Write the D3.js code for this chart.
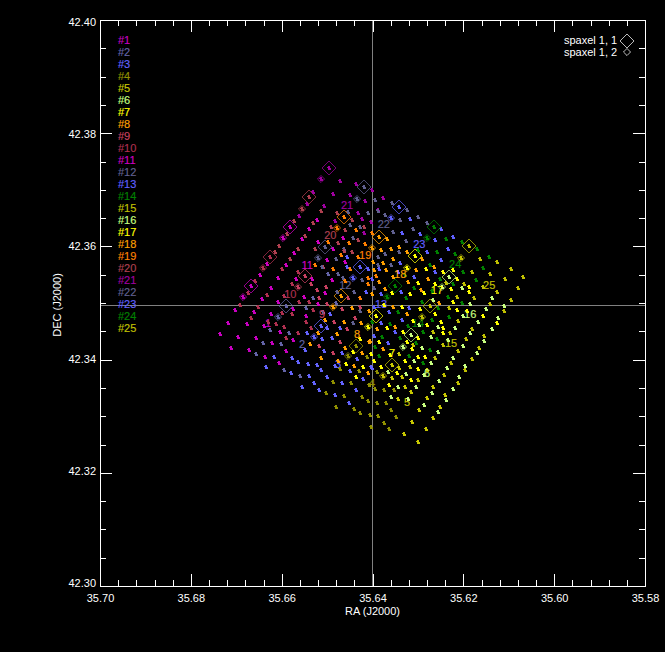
<!DOCTYPE html>
<html>
<head>
<meta charset="utf-8">
<script src="https://cdn.jsdelivr.net/npm/d3@7"></script>
<style>
body { margin: 0; background: #000; }
svg { display: block; }
text { font-family: "Liberation Sans", sans-serif; font-size: 11px; }
</style>
</head>
<body>
<svg></svg>
<script>
// spaxel numbers and their colours, same order as the legend
let spaxelIds = d3.range(1, 26);
let spaxelColors = ["#c800c0", "#6464a8", "#6464ff", "#909000", "#c8c800", "#c8ff80", "#ffff00", "#ffa000", "#c84060", "#b03050",
    "#d000c0", "#606090", "#6060ff", "#008000", "#c0c000", "#c8ff80", "#ffff00", "#ffa000", "#ff8000", "#b04050",
    "#a000a0", "#606090", "#6060ff", "#008000", "#c0c000"];

// sub-position 1,1 of each spaxel
let bigRa = [35.6668, 35.6590, 35.6513, 35.6436, 35.6357, 35.6315, 35.6392, 35.6469, 35.6548, 35.6625, 35.6581, 35.6504, 35.6427, 35.6350, 35.6273, 35.6231, 35.6306, 35.6385, 35.6462, 35.6539, 35.6495, 35.6418, 35.6341, 35.6264, 35.6187];
let bigDec = [42.3530, 42.3494, 42.3459, 42.3424, 42.3390, 42.3443, 42.3477, 42.3512, 42.3547, 42.3581, 42.3634, 42.3599, 42.3563, 42.3530, 42.3494, 42.3546, 42.3583, 42.3616, 42.3652, 42.3687, 42.3738, 42.3705, 42.3669, 42.3634, 42.3600];

// sub-position 1,2 of each spaxel
let smallRa = [35.6685, 35.6608, 35.6529, 35.6453, 35.6376, 35.6332, 35.6409, 35.6487, 35.6563, 35.6641, 35.6597, 35.6520, 35.6443, 35.6368, 35.6291, 35.6247, 35.6324, 35.6401, 35.6478, 35.6555, 35.6513, 35.6434, 35.6359, 35.6280, 35.6205];
let smallDec = [42.3510, 42.3475, 42.3440, 42.3406, 42.3371, 42.3422, 42.3457, 42.3493, 42.3528, 42.3561, 42.3615, 42.3579, 42.3544, 42.3510, 42.3475, 42.3528, 42.3561, 42.3597, 42.3632, 42.3666, 42.3719, 42.3683, 42.3650, 42.3614, 42.3579];

// where the spaxel numbers are written
let labelRa = [35.6630, 35.6555, 35.6476, 35.6401, 35.6324, 35.6280, 35.6357, 35.6434, 35.6511, 35.6581, 35.6544, 35.6460, 35.6381, 35.6300, 35.6227, 35.6185, 35.6258, 35.6339, 35.6416, 35.6493, 35.6456, 35.6375, 35.6297, 35.6218, 35.6143];
let labelDec = [42.3464, 42.3427, 42.3392, 42.3358, 42.3325, 42.3376, 42.3411, 42.3445, 42.3480, 42.3516, 42.3567, 42.3531, 42.3498, 42.3464, 42.3429, 42.3480, 42.3523, 42.3551, 42.3584, 42.3620, 42.3673, 42.3639, 42.3604, 42.3569, 42.3531];

let dots1 = [[35.6703,42.3487],[35.6718,42.3464],[35.6736,42.3445],[35.6711,42.3420],[35.6672,42.3417],[35.6696,42.3440],[35.6676,42.3463],[35.6661,42.3484],[35.6643,42.3507],[35.6623,42.3526],[35.6656,42.3438],[35.6639,42.3459],[35.6623,42.3480],[35.6608,42.3501],[35.6637,42.3404],[35.6621,42.3429],[35.6603,42.3448],[35.6575,42.3489],[35.6606,42.3394],[35.6590,42.3415],[35.6575,42.3434],[35.6546,42.3477]];
let dots2 = [[35.6641,42.3429],[35.6601,42.3427],[35.6625,42.3452],[35.6584,42.3447],[35.6656,42.3410],[35.6546,42.3491],[35.6531,42.3508],[35.6509,42.3484],[35.6480,42.3500],[35.6595,42.3381],[35.6559,42.3371],[35.6498,42.3551]];
let dots3 = [[35.6617,42.3404],[35.6634,42.3387],[35.6577,42.3402],[35.6579,42.3376],[35.6564,42.3395],[35.6540,42.3371],[35.6542,42.3392],[35.6522,42.3390],[35.6513,42.3381],[35.6500,42.3369],[35.6555,42.3351],[35.6529,42.3358],[35.6518,42.3346],[35.6482,42.3337],[35.6467,42.3358],[35.6452,42.3323],[35.6482,42.3388],[35.6449,42.3380],[35.6436,42.3346],[35.6421,42.3365],[35.6434,42.3401],[35.6403,42.3387],[35.6548,42.3417],[35.6507,42.3415],[35.6467,42.3411],[35.6511,42.3436],[35.6489,42.3438],[35.6544,42.3447],[35.6471,42.3456],[35.6500,42.3456],[35.6493,42.3480],[35.6401,42.3385]];
let dots4 = [[35.6412,42.3404],[35.6471,42.3383],[35.6430,42.3380],[35.6390,42.3378],[35.6487,42.3360],[35.6447,42.3358],[35.6407,42.3355],[35.6394,42.3348],[35.6502,42.3341],[35.6463,42.3335],[35.6423,42.3334],[35.6410,42.3327],[35.6390,42.3323],[35.6480,42.3316],[35.6441,42.3312],[35.6427,42.3305],[35.6405,42.3302],[35.6388,42.3300],[35.6403,42.3281],[35.6375,42.3346],[35.6353,42.3346],[35.6370,42.3323],[35.6359,42.3311],[35.6375,42.3288],[35.6348,42.3298],[35.6363,42.3277]];
let dots5 = [[35.6341,42.3410],[35.6341,42.3385],[35.6317,42.3387],[35.6357,42.3367],[35.6335,42.3369],[35.6300,42.3364],[35.6328,42.3351],[35.6315,42.3342],[35.6344,42.3330],[35.6280,42.3381],[35.6267,42.3351],[35.6280,42.3332],[35.6297,42.3311],[35.6313,42.3289],[35.6251,42.3316],[35.6267,42.3296],[35.6282,42.3277],[35.6330,42.3268],[35.6300,42.3254],[35.6240,42.3337]];
let dots6 = [[35.6366,42.3378],[35.6326,42.3374],[35.6286,42.3372],[35.6344,42.3351],[35.6304,42.3351],[35.6359,42.3334],[35.6322,42.3330],[35.6269,42.3341],[35.6286,42.3319],[35.6238,42.3328],[35.6256,42.3307],[35.6223,42.3348],[35.6209,42.3369],[35.6253,42.3362],[35.6236,42.3385],[35.6196,42.3388],[35.6271,42.3394],[35.6308,42.3397],[35.6291,42.3420],[35.6271,42.3440],[35.6256,42.3413],[35.6223,42.3402]];
let dots7 = [[35.6427,42.3436],[35.6443,42.3413],[35.6403,42.3410],[35.6458,42.3392],[35.6421,42.3387],[35.6436,42.3369],[35.6381,42.3387],[35.6397,42.3397],[35.6368,42.3456],[35.6332,42.3448],[35.6361,42.3408],[35.6328,42.3397],[35.6300,42.3383],[35.6313,42.3418],[35.6324,42.3431],[35.6385,42.3431],[35.6346,42.3376],[35.6315,42.3364],[35.6363,42.3355],[35.6300,42.3404],[35.6284,42.3404]];
let dots8 = [[35.6504,42.3470],[35.6463,42.3466],[35.6478,42.3445],[35.6425,42.3464],[35.6407,42.3486],[35.6407,42.3431],[35.6460,42.3420],[35.6423,42.3411],[35.6513,42.3402],[35.6476,42.3397],[35.6441,42.3388],[35.6410,42.3376],[35.6445,42.3491],[35.6537,42.3427],[35.6520,42.3447],[35.6377,42.3418],[35.6405,42.3432]];
let dots9 = [[35.6518,42.3508],[35.6522,42.3523],[35.6502,42.3528],[35.6500,42.3498],[35.6509,42.3563],[35.6535,42.3533],[35.6518,42.3424],[35.6487,42.3411],[35.6485,42.3466],[35.6467,42.3489],[35.6456,42.3454],[35.6471,42.3431],[35.6438,42.3473],[35.6427,42.3493],[35.6454,42.3508]];
let dots10 = [[35.6692,42.3496],[35.6652,42.3493],[35.6632,42.3514],[35.6674,42.3517],[35.6659,42.3538],[35.6668,42.3473],[35.6630,42.3466],[35.6612,42.3463],[35.6599,42.3482],[35.6595,42.3457],[35.6590,42.3438],[35.6577,42.3480],[35.6562,42.3501],[35.6595,42.3512],[35.6577,42.3533],[35.6599,42.3560],[35.6564,42.3555],[35.6546,42.3466],[35.6540,42.3501],[35.6531,42.3487],[35.6535,42.3455],[35.6564,42.3447]];
let dots11 = [[35.6648,42.3549],[35.6632,42.3569],[35.6608,42.3544],[35.6590,42.3567],[35.6573,42.3588],[35.6555,42.3613],[35.6540,42.3630],[35.6568,42.3542],[35.6551,42.3510],[35.6533,42.3542],[35.6520,42.3498],[35.6504,42.3517],[35.6489,42.3540],[35.6520,42.3607],[35.6500,42.3576],[35.6487,42.3595],[35.6460,42.3572],[35.6522,42.3646],[35.6465,42.3615]];
let dots12 = [[35.6463,42.3595],[35.6480,42.3577],[35.6511,42.3563],[35.6478,42.3519],[35.6441,42.3519],[35.6465,42.3544],[35.6423,42.3540],[35.6443,42.3464],[35.6427,42.3486],[35.6476,42.3551]];
let dots13 = [[35.6410,42.3560],[35.6456,42.3581],[35.6414,42.3519],[35.6385,42.3560],[35.6401,42.3542],[35.6381,42.3516],[35.6344,42.3555],[35.6339,42.3570],[35.6308,42.3546],[35.6337,42.3519],[35.6397,42.3493],[35.6363,42.3484],[35.6381,42.3464],[35.6335,42.3470],[35.6319,42.3491],[35.6397,42.3441],[35.6350,42.3448],[35.6366,42.3429],[35.6456,42.3563]];
let dots14 = [[35.6401,42.3466],[35.6361,42.3463],[35.6344,42.3484],[35.6322,42.3459],[35.6379,42.3440],[35.6339,42.3438],[35.6394,42.3422],[35.6385,42.3406],[35.6304,42.3429],[35.6319,42.3406],[35.6289,42.3448],[35.6269,42.3470],[35.6258,42.3436],[35.6273,42.3417],[35.6289,42.3394],[35.6256,42.3491],[35.6231,42.3475],[35.6291,42.3501],[35.6326,42.3508],[35.6308,42.3526],[35.6328,42.3549]];
let dots15 = [[35.6245,42.3425],[35.6311,42.3425],[35.6267,42.3448],[35.6229,42.3447],[35.6194,42.3436],[35.6212,42.3415],[35.6262,42.3402],[35.6227,42.3394],[35.6196,42.3381],[35.6181,42.3401],[35.6242,42.3372],[35.6212,42.3358],[35.6165,42.3420],[35.6181,42.3454],[35.6212,42.3468],[35.6231,42.3491],[35.6154,42.3441]];
let dots16 = [[35.6297,42.3461],[35.6256,42.3457],[35.6218,42.3456],[35.6201,42.3477],[35.6185,42.3498],[35.6150,42.3489],[35.6123,42.3473],[35.6137,42.3454],[35.6110,42.3494],[35.6185,42.3447],[35.6234,42.3434],[35.6201,42.3424],[35.6154,42.3432],[35.6170,42.3411],[35.6267,42.3505],[35.6168,42.3466],[35.6203,42.3526],[35.6137,42.3508]];
let dots17 = [[35.6375,42.3496],[35.6335,42.3493],[35.6317,42.3516],[35.6357,42.3517],[35.6286,42.3517],[35.6295,42.3489],[35.6262,42.3480],[35.6249,42.3466],[35.6214,42.3487],[35.6192,42.3486],[35.6157,42.3477],[35.6126,42.3464],[35.6280,42.3461],[35.6311,42.3468],[35.6245,42.3456],[35.6245,42.3447],[35.6300,42.3438],[35.6282,42.3560],[35.6245,42.3555],[35.6223,42.3558],[35.6300,42.3535],[35.6262,42.3533],[35.6227,42.3524],[35.6214,42.3542],[35.6187,42.3528],[35.6187,42.3519],[35.6223,42.3501]];
let dots18 = [[35.6381,42.3593],[35.6399,42.3572],[35.6377,42.3570],[35.6355,42.3577],[35.6368,42.3613],[35.6359,42.3595],[35.6341,42.3599],[35.6324,42.3590],[35.6304,42.3558],[35.6291,42.3577],[35.6264,42.3563],[35.6278,42.3542],[35.6370,42.3558],[35.6397,42.3558],[35.6385,42.3537],[35.6355,42.3546],[35.6372,42.3524],[35.6322,42.3537],[35.6293,42.3523],[35.6401,42.3516],[35.6253,42.3500],[35.6355,42.3493],[35.6324,42.3480],[35.6390,42.3454],[35.6350,42.3457]];
let dots19 = [[35.6436,42.3629],[35.6401,42.3623],[35.6452,42.3606],[35.6416,42.3604],[35.6498,42.3607],[35.6469,42.3585],[35.6432,42.3581],[35.6487,42.3560],[35.6449,42.3560],[35.6526,42.3567],[35.6460,42.3538],[35.6410,42.3544],[35.6392,42.3547],[35.6410,42.3533],[35.6427,42.3508]];
let dots20 = [[35.6615,42.3590],[35.6606,42.3600],[35.6588,42.3622],[35.6573,42.3645],[35.6581,42.3577],[35.6564,42.3595],[35.6548,42.3618],[35.6531,42.3641],[35.6513,42.3662],[35.6526,42.3595],[35.6476,42.3606],[35.6460,42.3629],[35.6478,42.3659],[35.6491,42.3634],[35.6419,42.3634],[35.6445,42.3646],[35.6463,42.3591],[35.6445,42.3590],[35.6432,42.3611]];
let dots21 = [[35.6562,42.3653],[35.6544,42.3675],[35.6531,42.3696],[35.6471,42.3715],[35.6436,42.3710],[35.6487,42.3692],[35.6401,42.3699],[35.6449,42.3690],[35.6416,42.3680],[35.6507,42.3671],[35.6432,42.3659],[35.6482,42.3644],[35.6403,42.3643],[35.6377,42.3685],[35.6388,42.3664],[35.6419,42.3623],[35.6423,42.3648]];
let dots22 = [[35.6454,42.3661],[35.6410,42.3659],[35.6388,42.3662],[35.6394,42.3682],[35.6357,42.3676],[35.6324,42.3664],[35.6372,42.3655],[35.6339,42.3646],[35.6300,42.3652],[35.6280,42.3641],[35.6311,42.3630],[35.6449,42.3637],[35.6427,42.3635],[35.6443,42.3615],[35.6355,42.3625],[35.6326,42.3609],[35.6341,42.3590],[35.6372,42.3586],[35.6388,42.3581],[35.6359,42.3567],[35.6388,42.3567],[35.6397,42.3526]];
let dots23 = [[35.6317,42.3648],[35.6249,42.3630],[35.6335,42.3623],[35.6295,42.3622],[35.6262,42.3611],[35.6223,42.3616],[35.6234,42.3595],[35.6280,42.3590],[35.6249,42.3576],[35.6262,42.3555]];
let dots24 = [[35.6238,42.3613],[35.6203,42.3607],[35.6300,42.3593],[35.6258,42.3590],[35.6170,42.3595],[35.6218,42.3586],[35.6143,42.3581],[35.6273,42.3567],[35.6157,42.3561],[35.6201,42.3555],[35.6251,42.3542],[35.6172,42.3540],[35.6223,42.3533],[35.6269,42.3521],[35.6234,42.3510],[35.6203,42.3500]];
let dots25 = [[35.6163,42.3577],[35.6126,42.3572],[35.6095,42.3560],[35.6181,42.3555],[35.6141,42.3551],[35.6108,42.3542],[35.6069,42.3546],[35.6079,42.3526],[35.6157,42.3528],[35.6198,42.3533],[35.6238,42.3535],[35.6126,42.3519],[35.6214,42.3510],[35.6176,42.3508],[35.6095,42.3505],[35.6141,42.3498],[35.6110,42.3486]];
let allDots = [dots1, dots2, dots3, dots4, dots5, dots6, dots7, dots8, dots9, dots10, dots11, dots12, dots13, dots14, dots15, dots16, dots17, dots18, dots19, dots20, dots21, dots22, dots23, dots24, dots25];

// tick values
let raMajor = [35.70, 35.68, 35.66, 35.64, 35.62, 35.60, 35.58];
let raMinor = d3.range(0, 31).map(function(i) { return 35.70 - i * 0.004; });
let decMajor = [42.30, 42.32, 42.34, 42.36, 42.38, 42.40];
let decMinor = d3.range(0, 21).map(function(i) { return 42.30 + i * 0.005; });

// crosshair on the pointing centre
let centerRa = 35.64;
let centerDec = 42.3495;

let svgWidth = 665;
let svgHeight = 652;

let svg = d3.select("svg")
    .attr("width", svgWidth)
    .attr("height", svgHeight)
    .style("background", "#000");

let x = d3.scaleLinear().domain([35.70, 35.58]).range([100, 645]);
let y = d3.scaleLinear().domain([42.30, 42.40]).range([586, 20]);

// crosshair goes under the dots
svg.append("line").attr("x1", x(centerRa)).attr("x2", x(centerRa)).attr("y1", y(42.30)).attr("y2", y(42.40)).attr("stroke", "#808080").attr("shape-rendering", "crispEdges");
svg.append("line").attr("x1", x(35.70)).attr("x2", x(35.58)).attr("y1", y(centerDec)).attr("y2", y(centerDec)).attr("stroke", "#808080").attr("shape-rendering", "crispEdges");

// small house shaped point symbol, like the IDL one
let houseSymbol = {
    draw: function(context, size) {
        let r = Math.sqrt(size) / 2;
        context.moveTo(-r, r);
        context.lineTo(r, r);
        context.lineTo(r, -r / 3);
        context.lineTo(0, -r * 1.4);
        context.lineTo(-r, -r / 3);
        context.closePath();
    }
};
let dotPath = d3.symbol(houseSymbol, 9)();
let bigDiamond = d3.symbol(d3.symbolSquare, 98)();
let smallDiamond = d3.symbol(d3.symbolSquare, 25)();

function place(ra, dec) {
    return "translate(" + Math.round(x(ra)) + "," + Math.round(y(dec)) + ")";
}

spaxelIds.forEach(function(id, i) {
    let color = spaxelColors[i];
    let g = svg.append("g").attr("fill", color);

    g.selectAll("path.dot")
        .data(allDots[i].concat([[bigRa[i], bigDec[i]], [smallRa[i], smallDec[i]]]))
        .enter()
        .append("path")
        .attr("class", "dot")
        .attr("d", dotPath)
        .attr("shape-rendering", "crispEdges")
        .attr("transform", function(d) { return place(d[0], d[1]); });

    g.append("path")
        .attr("d", bigDiamond)
        .attr("fill", "none")
        .attr("stroke", color)
        .attr("stroke-width", 0.7)
        .attr("transform", place(bigRa[i], bigDec[i]) + " rotate(45)");

    g.append("path")
        .attr("d", smallDiamond)
        .attr("fill", "none")
        .attr("stroke", color)
        .attr("stroke-width", 0.7)
        .attr("transform", place(smallRa[i], smallDec[i]) + " rotate(45)");

    g.append("text")
        .attr("x", x(labelRa[i]))
        .attr("y", y(labelDec[i]) + 4)
        .attr("text-anchor", "middle")
        .attr("stroke", color)
        .attr("stroke-width", 0.15)
        .text(id);

    // colour key down the left side
    g.append("text")
        .attr("x", 118)
        .attr("y", 44 + i * 12)
        .attr("stroke", color)
        .attr("stroke-width", 0.15)
        .text("#" + id);
});

// frame and ticks on all four sides
function drawAxis(axis, values, size, transform, labels) {
    let g = svg.append("g")
        .attr("transform", transform)
        .call(axis.tickValues(values).tickSizeInner(size).tickSizeOuter(0).tickFormat(labels ? d3.format(".2f") : ""));
    g.selectAll("path, line").attr("stroke", "#fff").attr("shape-rendering", "crispEdges");
    g.selectAll("text").attr("fill", "#fff").style("font-family", "Liberation Sans").style("font-size", "11px");
    return g;
}

let bottom = "translate(0,586)", left = "translate(100,0)", top_ = "translate(0,20)", right = "translate(645,0)";

drawAxis(d3.axisBottom(x), raMinor, -6, bottom, false);
drawAxis(d3.axisBottom(x), raMajor, -12, bottom, true).selectAll("text").attr("y", 8).attr("dy", "0.71em");
drawAxis(d3.axisLeft(y), decMinor, -6, left, false);
// the DEC labels run slightly tighter than the ticks in the picture
let decLabelShift = d3.scaleLinear().domain([42.30, 42.40]).range([-3, 2]);
drawAxis(d3.axisLeft(y), decMajor, -12, left, true).selectAll("text").attr("x", -4).attr("y", function(d) { return decLabelShift(d); });
drawAxis(d3.axisTop(x), raMinor, -6, top_, false);
drawAxis(d3.axisTop(x), raMajor, -12, top_, false);
drawAxis(d3.axisRight(y), decMinor, -6, right, false);
drawAxis(d3.axisRight(y), decMajor, -12, right, false);

svg.append("text").attr("x", x(35.64)).attr("y", 615).attr("text-anchor", "middle").attr("fill", "#fff").text("RA (J2000)");
svg.append("text").attr("transform", "translate(61,305) rotate(-90)").attr("text-anchor", "middle").attr("fill", "#fff").text("DEC (J2000)");

// key for the two diamonds, top right
let keyNames = ["spaxel 1, 1", "spaxel 1, 2"];
let keyShapes = [bigDiamond, smallDiamond];
keyNames.forEach(function(name, i) {
    svg.append("text").attr("x", 564).attr("y", 44 + i * 12).attr("fill", "#fff").text(name);
    svg.append("path")
        .attr("d", keyShapes[i])
        .attr("fill", "none")
        .attr("stroke", "#fff")
        .attr("stroke-width", 0.7)
        .attr("transform", "translate(627," + (41 + i * 11) + ") rotate(45)");
});
</script>
</body>
</html>
